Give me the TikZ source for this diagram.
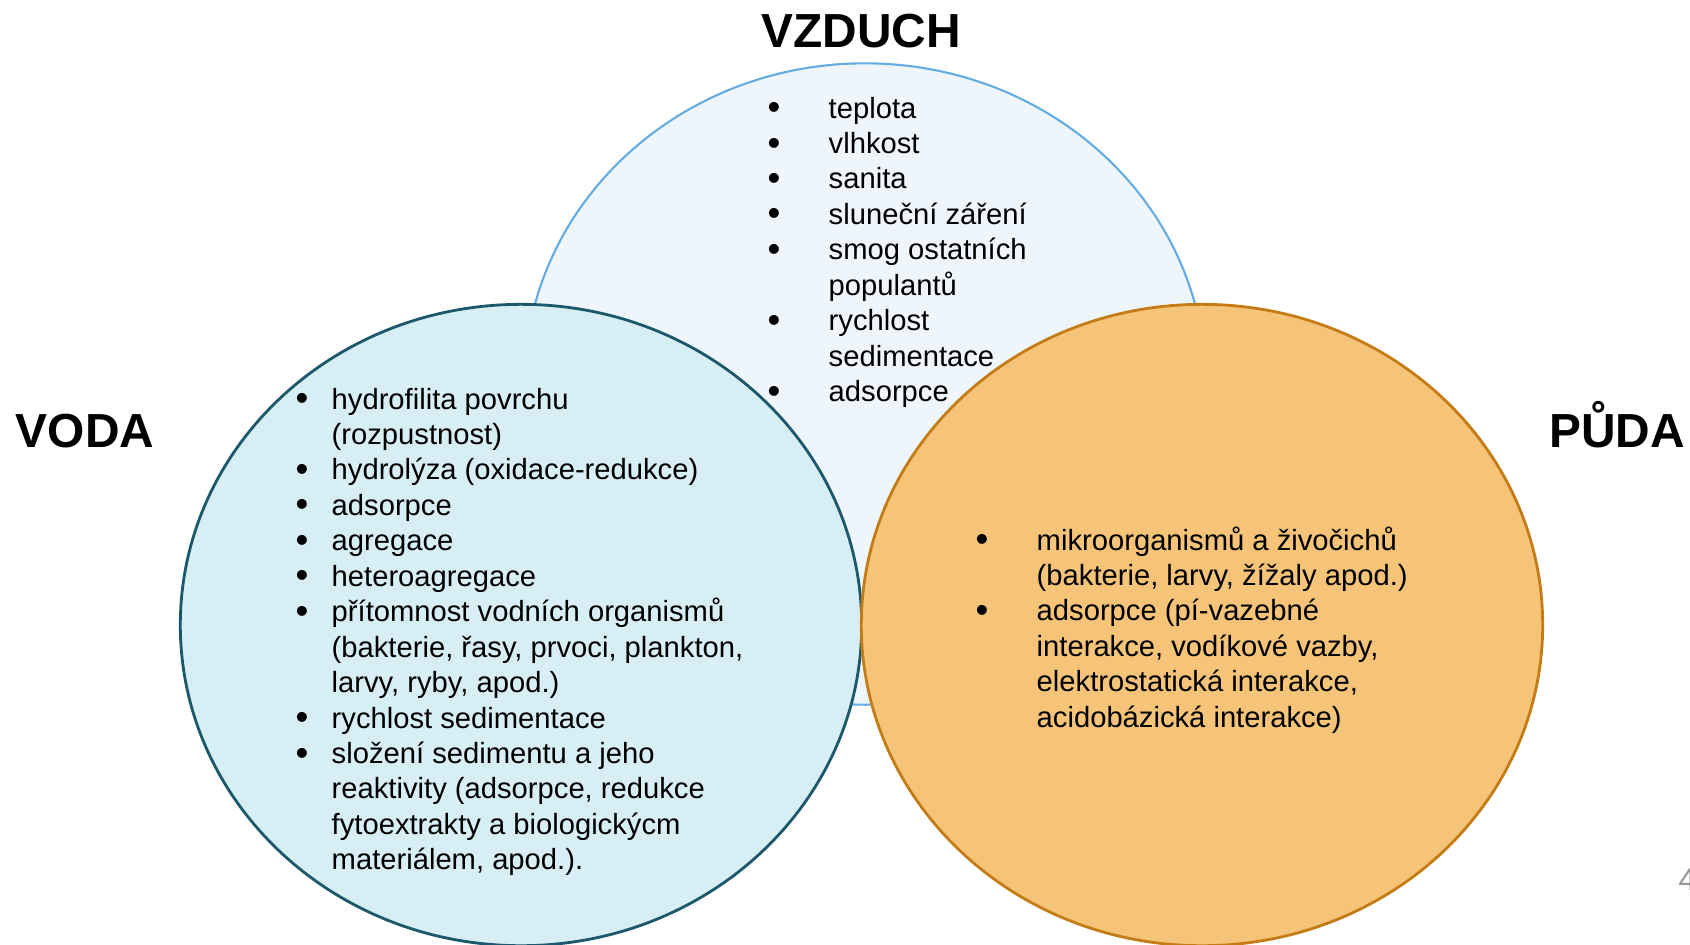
\documentclass[tikz,border=0pt]{standalone}
\usepackage{fontspec}
\setmainfont{Liberation Sans}
\usepackage{tikz}
\usetikzlibrary{shapes.geometric, positioning}
\definecolor{airfill}{RGB}{239, 246, 251}
\definecolor{airline}{RGB}{100, 172, 226}
\definecolor{waterfill}{RGB}{216, 238, 245}
\definecolor{waterline}{RGB}{27, 88, 108}
\definecolor{soilfill}{RGB}{246, 196, 120}
\definecolor{soilline}{RGB}{196, 124, 22}
\definecolor{pagegray}{RGB}{150, 150, 150}
\newcommand{\blt}{\raisebox{-0.1ex}{\scalebox{1.25}{\textbullet}}}

\begin{document}
\begin{tikzpicture}[
  x=0.01cm, y=-0.01cm,
  venn/.style={ellipse, inner sep=0pt, minimum width=6.81cm, minimum height=6.41cm},
  title/.style={anchor=base, inner sep=0pt, font=\fontsize{13.6}{16}\selectfont\bfseries},
  lst/.style={anchor=base west, inner sep=0pt, font=\fontsize{8.3}{10.08}\selectfont},
]
  \useasboundingbox (0,0) rectangle (1690,944);

  % Circles
  \node[venn, draw=airline, fill=airfill, line width=0.6pt] (vz) at (865,384) {};
  \node[venn, draw=waterline, fill=waterfill, line width=0.8pt] (vo) at (521,625) {};
  \node[venn, draw=soilline, fill=soilfill, line width=0.8pt] (pu) at (1202,625) {};

  % Titles
  \node[title] (vzt) at (861,47) {VZDUCH};
  \node[title] (vot) at (85,447) {VODA};
  \node[title] (put) at (1617,447) {PŮDA};

  % VZDUCH list
  \node[lst] (vzl) at (767,118) {\begin{tabular}[t]{@{}p{0.61cm}@{}l@{}}
    \blt & teplota\\
    \blt & vlhkost\\
    \blt & sanita\\
    \blt & sluneční záření\\
    \blt & smog ostatních\\
         & populantů\\
    \blt & rychlost\\
         & sedimentace\\
    \blt & adsorpce
  \end{tabular}};

  % VODA list
  \node[lst] (vol) at (295,409) {\begin{tabular}[t]{@{}p{0.36cm}@{}l@{}}
    \blt & hydrofilita povrchu\\
         & (rozpustnost)\\
    \blt & hydrolýza (oxidace-redukce)\\
    \blt & adsorpce\\
    \blt & agregace\\
    \blt & heteroagregace\\
    \blt & přítomnost vodních organismů\\
         & (bakterie, řasy, prvoci, plankton,\\
         & larvy, ryby, apod.)\\
    \blt & rychlost sedimentace\\
    \blt & složení sedimentu a jeho\\
         & reaktivity (adsorpce, redukce\\
         & fytoextrakty a biologickýcm\\
         & materiálem, apod.).
  \end{tabular}};

  % PUDA list
  \node[lst] (pul) at (975,550) {\begin{tabular}[t]{@{}p{0.61cm}@{}l@{}}
    \blt & mikroorganismů a živočichů\\
         & (bakterie, larvy, žížaly apod.)\\
    \blt & adsorpce (pí-vazebné\\
         & interakce, vodíkové vazby,\\
         & elektrostatická interakce,\\
         & acidobázická interakce)
  \end{tabular}};

  % page number
  \node[anchor=base west, inner sep=0pt, text=pagegray, font=\fontsize{9}{10}\selectfont] (pg) at (1678,890) {4};
\end{tikzpicture}
\end{document}
